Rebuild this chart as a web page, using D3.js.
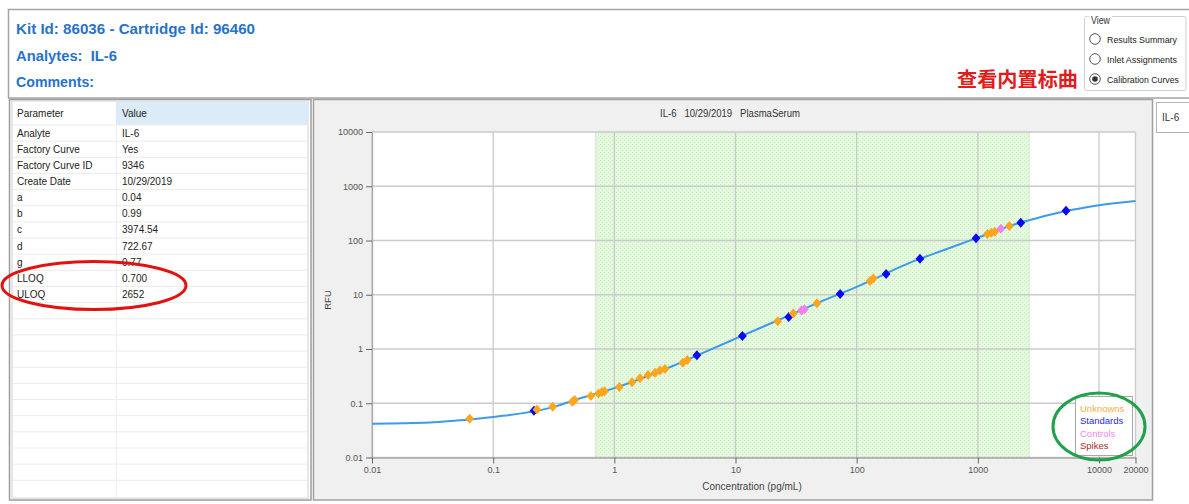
<!DOCTYPE html>
<html><head><meta charset="utf-8">
<script src="https://cdn.jsdelivr.net/npm/d3@7"></script>
<style>
html,body{margin:0;padding:0;background:#fff;}
svg{display:block;font-family:"Liberation Sans",Arial,sans-serif;}
</style></head><body>
<svg id="c" width="1189" height="504"></svg>
<script>
// ---------- data ----------
const headerLines = ["Kit Id: 86036 - Cartridge Id: 96460", "Analytes:  IL-6", "Comments:"];
const viewTitle = "View";
const viewOptions = ["Results Summary", "Inlet Assignments", "Calibration Curves"];
const selectedView = 2;
const annotation = "查看内置标曲";
const tabLabel = "IL-6";
const tableHeader = ["Parameter", "Value"];
const paramNames = ["Analyte", "Factory Curve", "Factory Curve ID", "Create Date", "a", "b", "c", "d", "g", "LLOQ", "ULOQ"];
const paramValues = ["IL-6", "Yes", "9346", "10/29/2019", "0.04", "0.99", "3974.54", "722.67", "0.77", "0.700", "2652"];
const chartTitle = "IL-6   10/29/2019   PlasmaSerum";
const xTicks = [0.01, 0.1, 1, 10, 100, 1000, 10000, 20000];
const xTickLabels = ["0.01", "0.1", "1", "10", "100", "1000", "10000", "20000"];
const yTicks = [0.01, 0.1, 1, 10, 100, 1000, 10000];
const yTickLabels = ["0.01", "0.1", "1", "10", "100", "1000", "10000"];
const xTitle = "Concentration (pg/mL)";
const yTitle = "RFU";
const lloq = 0.7, uloq = 2652;
// fitted curve
const curveConc = [0.01, 0.03, 0.05, 0.1, 0.3, 0.5, 1, 3, 5, 10, 30, 50, 100, 300, 500, 1000, 2000, 3000, 5000, 10000, 20000];
const curveRFU  = [0.042, 0.044, 0.048, 0.056, 0.083, 0.12, 0.19, 0.48, 0.79, 1.55, 4.5, 7.4, 14, 42, 64, 113, 197, 254, 338, 448, 537];
// standards
const stdConc = [0.217, 4.8, 11.4, 27.5, 73, 175, 333, 966, 2260, 5340];
const stdRFU  = [0.073, 0.77, 1.74, 3.9, 10.3, 24, 46, 110, 213, 354];
// unknowns
const unkConc = [0.064, 0.23, 0.31, 0.45, 0.47, 0.64, 0.74, 0.79, 0.83, 1.1, 1.4, 1.63, 1.9, 2.17, 2.38, 2.62, 3.67, 4.0, 22.3, 30, 47, 129, 137, 1200, 1290, 1380, 1820];
const unkRFU  = [0.052, 0.077, 0.086, 0.107, 0.115, 0.136, 0.152, 0.161, 0.166, 0.2, 0.243, 0.29, 0.33, 0.366, 0.40, 0.43, 0.56, 0.63, 3.24, 4.5, 7.0, 18, 20, 132, 139, 145, 185];
// controls
const ctrlConc = [35, 37, 1550];
const ctrlRFU  = [5.1, 5.4, 165];
const legendLabels = ["Unknowns", "Standards", "Controls", "Spikes"];
const legendColors = ["#f9ad45", "#2a2ae8", "#ee8aee", "#9e2e32"];

// ---------- drawing ----------
const svg = d3.select("#c");
const defs = svg.append("defs");
const pat = defs.append("pattern").attr("id", "hatch").attr("width", 4).attr("height", 4).attr("patternUnits", "userSpaceOnUse");
pat.append("rect").attr("width", 4).attr("height", 4).attr("fill", "#e3f8dc");
pat.append("rect").attr("x", 0).attr("y", 0).attr("width", 1).attr("height", 1).attr("fill", "#cdeec3");
pat.append("rect").attr("x", 2).attr("y", 2).attr("width", 1).attr("height", 1).attr("fill", "#cdeec3");

// header box
svg.append("rect").attr("x", 8.5).attr("y", 9.5).attr("width", 1190).attr("height", 88.5)
  .attr("fill", "#fff").attr("stroke", "#a4a4a4").attr("stroke-width", 1.5);
const headerY = [34, 60.5, 86.5];
const headerW = [239, 101, 78];
headerLines.forEach((t, i) => {
  svg.append("text").attr("x", 16).attr("y", headerY[i]).attr("fill", "#2872ca")
    .attr("font-size", 15).attr("font-weight", "bold")
    .attr("textLength", headerW[i]).attr("lengthAdjust", "spacingAndGlyphs")
    .style("white-space", "pre").text(t);
});

// view group box
svg.append("rect").attr("x", 1084.5).attr("y", 16.5).attr("width", 101.5).attr("height", 74)
  .attr("rx", 2).attr("fill", "#fff").attr("stroke", "#cfcfcf");
svg.append("rect").attr("x", 1089).attr("y", 12).attr("width", 23).attr("height", 10).attr("fill", "#fff");
svg.append("text").attr("x", 1091).attr("y", 24).attr("font-size", 10).attr("fill", "#333")
  .attr("textLength", 19).attr("lengthAdjust", "spacingAndGlyphs").text(viewTitle);
const optW = [70, 70, 72];
viewOptions.forEach((t, i) => {
  const cy = 39 + i * 20;
  svg.append("circle").attr("cx", 1095).attr("cy", cy).attr("r", 5.3)
    .attr("fill", "#fff").attr("stroke", "#555").attr("stroke-width", 1);
  if (i === selectedView) svg.append("circle").attr("cx", 1095).attr("cy", cy).attr("r", 2.8).attr("fill", "#333");
  svg.append("text").attr("x", 1107).attr("y", cy + 3.6).attr("font-size", 9.5).attr("fill", "#222")
    .attr("textLength", optW[i]).attr("lengthAdjust", "spacingAndGlyphs").text(t);
});
svg.append("text").attr("x", 957).attr("y", 86.5).attr("font-size", 20).attr("font-weight", "bold")
  .attr("font-family", "'Noto Sans CJK SC',sans-serif").attr("fill", "#e31b1b")
  .attr("textLength", 121).attr("lengthAdjust", "spacingAndGlyphs").text(annotation);

// table panel
svg.append("rect").attr("x", 9.5).attr("y", 99.5).attr("width", 301.5).attr("height", 400.5)
  .attr("fill", "#fff").attr("stroke", "#9c9c9c").attr("stroke-width", 1.5);
svg.append("rect").attr("x", 12).attr("y", 101).attr("width", 296).attr("height", 397)
  .attr("fill", "none").attr("stroke", "#d0d0d0").attr("stroke-width", 1);
svg.append("rect").attr("x", 116).attr("y", 101).attr("width", 192).attr("height", 24).attr("fill", "#dcebf8");
const rowH = 16.15, row0 = 125;
for (let k = 0; k < 23; k++) {
  const yy = row0 + k * rowH;
  if (yy > 497) break;
  svg.append("line").attr("x1", 13).attr("x2", 307).attr("y1", yy).attr("y2", yy)
    .attr("stroke", "#ececec").attr("stroke-width", 1);
}
svg.append("line").attr("x1", 116.5).attr("x2", 116.5).attr("y1", 125).attr("y2", 497).attr("stroke", "#eeeeee");
svg.append("text").attr("x", 17).attr("y", 116.5).attr("font-size", 10).attr("fill", "#222").text(tableHeader[0]);
svg.append("text").attr("x", 122).attr("y", 116.5).attr("font-size", 10).attr("fill", "#222").text(tableHeader[1]);
paramNames.forEach((n, i) => {
  const yy = row0 + i * rowH + 11.5;
  svg.append("text").attr("x", 17).attr("y", yy).attr("font-size", 10).attr("fill", "#222").text(n);
  svg.append("text").attr("x", 122).attr("y", yy).attr("font-size", 10).attr("fill", "#222").text(paramValues[i]);
});

// chart panel
svg.append("rect").attr("x", 313.5).attr("y", 99.5).attr("width", 839).attr("height", 400.5)
  .attr("fill", "#f0f0f0").attr("stroke", "#a0a0a0").attr("stroke-width", 1.5);
// tab
svg.append("rect").attr("x", 1156.5).attr("y", 102.5).attr("width", 34).attr("height", 30)
  .attr("fill", "#fff").attr("stroke", "#b4b4b4");
svg.append("text").attr("x", 1162).attr("y", 121).attr("font-size", 10).attr("fill", "#333").text(tabLabel);

svg.append("text").attr("x", 660).attr("y", 116.5).attr("font-size", 10).attr("fill", "#333")
  .attr("textLength", 140).attr("lengthAdjust", "spacingAndGlyphs").style("white-space", "pre").text(chartTitle);

const x = d3.scaleLog().domain([0.01, 20000]).range([372, 372 + 121.17 * Math.log10(2e6)]);
const y = d3.scaleLog().domain([0.01, 10000]).range([457.5, 132]);
const [x0, x1] = x.range(), [y0, y1] = y.range();

svg.append("rect").attr("x", x0).attr("y", y1).attr("width", x1 - x0).attr("height", y0 - y1).attr("fill", "#fff");
svg.append("rect").attr("x", x(lloq)).attr("y", y1).attr("width", x(uloq) - x(lloq)).attr("height", y0 - y1)
  .attr("fill", "url(#hatch)");
svg.append("line").attr("x1", x(lloq)).attr("x2", x(lloq)).attr("y1", y1).attr("y2", y0).attr("stroke", "#d2f0ca");
svg.append("line").attr("x1", x(uloq)).attr("x2", x(uloq)).attr("y1", y1).attr("y2", y0).attr("stroke", "#d2f0ca");

const grid = svg.append("g").attr("stroke", "#c6c6c6").attr("stroke-width", 1.3).attr("opacity", 0.9);
xTicks.forEach(t => grid.append("line").attr("x1", x(t)).attr("x2", x(t)).attr("y1", y1).attr("y2", y0));
yTicks.forEach(t => grid.append("line").attr("x1", x0).attr("x2", x1).attr("y1", y(t)).attr("y2", y(t)));

const yAxis = svg.append("g").attr("transform", `translate(${x0},0)`)
  .call(d3.axisLeft(y).tickValues(yTicks).tickFormat((d, i) => yTickLabels[i]).tickSize(6).tickSizeOuter(0).tickPadding(3));
const xAxis = svg.append("g").attr("transform", `translate(0,${y0})`)
  .call(d3.axisBottom(x).tickValues(xTicks).tickFormat((d, i) => xTickLabels[i]).tickSize(6).tickSizeOuter(0).tickPadding(3));
[yAxis, xAxis].forEach(g => {
  g.selectAll("path.domain").attr("stroke", "#a8a8a8").attr("stroke-width", 1.3);
  g.selectAll(".tick line").attr("stroke", "#666");
  g.selectAll(".tick text").attr("fill", "#555").attr("font-size", 9).attr("font-family", "'Liberation Sans',Arial,sans-serif");
});
svg.append("text").attr("x", 752).attr("y", 490).attr("text-anchor", "middle").attr("font-size", 10)
  .attr("fill", "#444").text(xTitle);
svg.append("text").attr("transform", "translate(331,300) rotate(-90)").attr("text-anchor", "middle")
  .attr("font-size", 9.5).attr("fill", "#444").text(yTitle);

// curve
const line = d3.line().x((d, i) => x(curveConc[i])).y((d, i) => y(curveRFU[i])).curve(d3.curveMonotoneX);
svg.append("path").attr("d", line(curveConc)).attr("fill", "none").attr("stroke", "#3d9be9").attr("stroke-width", 2);

const diamond = { draw(ctx) { const h = 5, w = 4.4; ctx.moveTo(0, -h); ctx.lineTo(w, 0); ctx.lineTo(0, h); ctx.lineTo(-w, 0); ctx.closePath(); } };
const sym = d3.symbol().type(diamond);
function pts(cs, rs, color) {
  svg.append("g").selectAll("path").data(cs).join("path")
    .attr("d", sym()).attr("transform", (d, i) => `translate(${x(d)},${y(rs[i])})`).attr("fill", color);
}
pts(stdConc, stdRFU, "#0a0af0");
pts(unkConc, unkRFU, "#ffa61c");
pts(ctrlConc, ctrlRFU, "#ee82ee");

// legend
svg.append("rect").attr("x", 1075.5).attr("y", 396.5).attr("width", 57).attr("height", 59)
  .attr("fill", "#fff").attr("stroke", "#a8a8a8");
legendLabels.forEach((t, i) => {
  svg.append("text").attr("x", 1080).attr("y", 411.5 + i * 12.6).attr("font-size", 9.5)
    .attr("fill", legendColors[i]).text(t);
});
// annotation ellipses
svg.append("ellipse").attr("cx", 1099).attr("cy", 426.5).attr("rx", 46).attr("ry", 33.5)
  .attr("fill", "none").attr("stroke", "#1fa24a").attr("stroke-width", 3);
svg.append("ellipse").attr("cx", 94).attr("cy", 285.5).attr("rx", 92).attr("ry", 24)
  .attr("fill", "none").attr("stroke", "#e21212").attr("stroke-width", 3);
</script>
</body></html>
